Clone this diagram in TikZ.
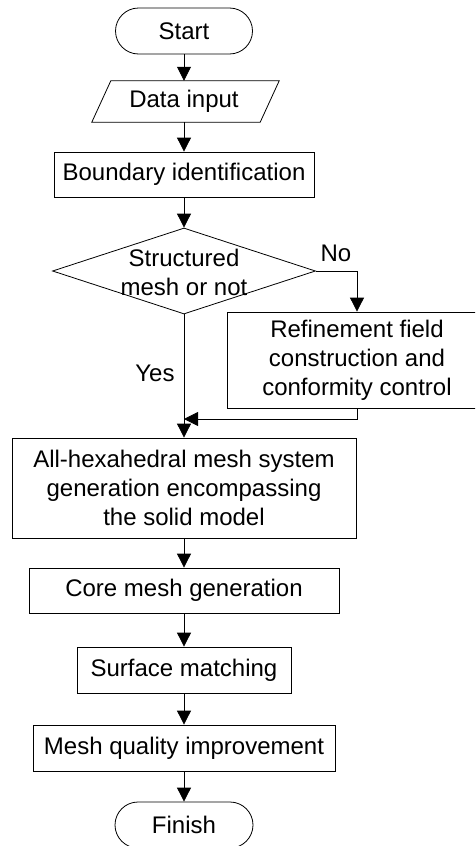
\documentclass[tikz,border=0pt]{standalone}
\usepackage{fontspec}
\setmainfont{Liberation Sans}
\usetikzlibrary{shapes.geometric,shapes.misc,arrows.meta,calc}
\begin{document}
\begin{tikzpicture}[x=1pt,y=-1pt,
  every node/.style={font=\fontsize{24}{29}\selectfont, inner sep=0pt},
  box/.style={draw, line width=0.8pt, rectangle, align=center},
  term/.style={draw, line width=0.8pt, rounded rectangle},
  conn/.style={line width=0.8pt, -{Triangle[width=14pt,length=14pt]}},
  lbl/.style={align=center},
]
\useasboundingbox (0,0) rectangle (475,846);
\clip (0,0) rectangle (475,846);

\node[term, minimum width=137pt, minimum height=46pt] (start) at (184,31) {Start};
\node[minimum width=168pt, minimum height=41pt] (data) at (184,101.5) {Data input};
\draw[line width=0.8pt] ($(data.north west)+(11,0)$) -- ($(data.north east)+(11,0)$)
  -- ($(data.south east)+(-8,0)$) -- ($(data.south west)+(-8,0)$) -- cycle;
\node[box, minimum width=260pt, minimum height=45pt] (bound) at (184,174.5) {Boundary identification};
\node[diamond, draw, line width=0.8pt, minimum width=263pt, minimum height=86pt] (dec) at (184,271) {};
\node[lbl] (dectext) at (184,272) {Structured\\mesh or not};
\node[box, minimum width=260pt, minimum height=96pt] (refine) at (357,360) {Refinement field\\construction and\\conformity control};
\node[box, minimum width=344pt, minimum height=100pt] (allhex) at (184,488) {All-hexahedral mesh system\\generation encompassing\\the solid model};
\node[box, minimum width=310pt, minimum height=45pt] (core) at (184,590.5) {Core mesh generation};
\node[box, minimum width=214pt, minimum height=46pt] (surf) at (184,670) {Surface matching};
\node[box, minimum width=302pt, minimum height=46pt] (mq) at (184,748) {Mesh quality improvement};
\node[term, minimum width=138pt, minimum height=46pt] (finish) at (184,825) {Finish};

\node (no) at (336,253) {No};
\node (yes) at (155,373) {Yes};
\coordinate (join) at (184,419);

\draw[conn] (start.south) -- (data.north);
\draw[conn] (data.south) -- (bound.north);
\draw[conn] (bound.south) -- (dec.north);
\draw[conn] (dec.south) -- (allhex.north);
\draw[conn] (dec.east) -| (refine.north);
\draw[conn] (refine.south) |- (join);
\draw[conn] (allhex.south) -- (core.north);
\draw[conn] (core.south) -- (surf.north);
\draw[conn] (surf.south) -- (mq.north);
\draw[conn] (mq.south) -- (finish.north);
\end{tikzpicture}
\end{document}
